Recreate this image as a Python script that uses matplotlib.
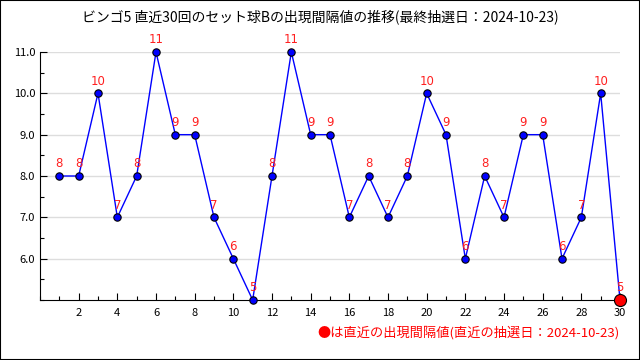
import matplotlib
matplotlib.use("Agg")
import matplotlib.pyplot as plt
from matplotlib.patches import Rectangle
from matplotlib.ticker import MultipleLocator

plt.rcParams['font.family'] = ['Noto Sans CJK JP', 'DejaVu Sans']

draws = list(range(1, 31))
intervals = [8, 8, 10, 7, 8, 11, 9, 9, 7, 6, 5, 8, 11, 9, 9, 7, 8, 7, 8, 10,
             9, 6, 8, 7, 9, 9, 6, 7, 10, 5]
title = "ビンゴ5 直近30回のセット球Bの出現間隔値の推移(最終抽選日：2024-10-23)"
note = "●は直近の出現間隔値(直近の抽選日：2024-10-23)"

fig = plt.figure(figsize=(6.4, 3.6), dpi=100)
fig.patches.append(Rectangle((0, 0), 1, 1, transform=fig.transFigure,
                             fill=False, edgecolor='black', linewidth=1.5))
ax = fig.add_axes([40/640, 1 - 300/360, 580/640, 248/360])

ax.plot(draws, intervals, color='blue', linewidth=1, zorder=3)
ax.scatter(draws[:-1], intervals[:-1], s=28, color='blue', edgecolor='black',
           linewidth=0.8, zorder=4, clip_on=False)
ax.scatter(draws[-1:], intervals[-1:], s=75, color='red', edgecolor='black',
           linewidth=0.8, zorder=5, clip_on=False)
for x, y in zip(draws, intervals):
    ax.annotate(str(y), (x, y), xytext=(0, 4), textcoords='offset points',
                ha='center', va='bottom', color='#ff2020', fontsize=8.5,
                family='DejaVu Sans')

ax.set_xlim(0, 30)
ax.set_ylim(5, 11)
ax.xaxis.set_major_locator(MultipleLocator(2))
ax.xaxis.set_minor_locator(MultipleLocator(1))
ax.yaxis.set_major_locator(MultipleLocator(1))
ax.yaxis.set_minor_locator(MultipleLocator(0.5))
ax.set_yticks([6, 7, 8, 9, 10, 11])
ax.set_yticklabels(['6.0', '7.0', '8.0', '9.0', '10.0', '11.0'])
ax.set_xticks(range(2, 31, 2))
ax.tick_params(which='both', direction='in', labelsize=8, width=0.8)
ax.tick_params(which='major', length=5)
ax.tick_params(which='minor', length=3)
ax.tick_params(axis='x', pad=6)
for s in ['top', 'right']:
    ax.spines[s].set_visible(False)
ax.grid(axis='y', which='major', color='#dddddd', linewidth=1)
ax.set_axisbelow(True)

fig.text(0.5, 1 - 17/360, title, ha='center', va='center', fontsize=10)
fig.text(620/640, 1 - 333/360, note, ha='right', va='center', fontsize=9.5,
         color='red')

fig.savefig("out.png", dpi=100)
